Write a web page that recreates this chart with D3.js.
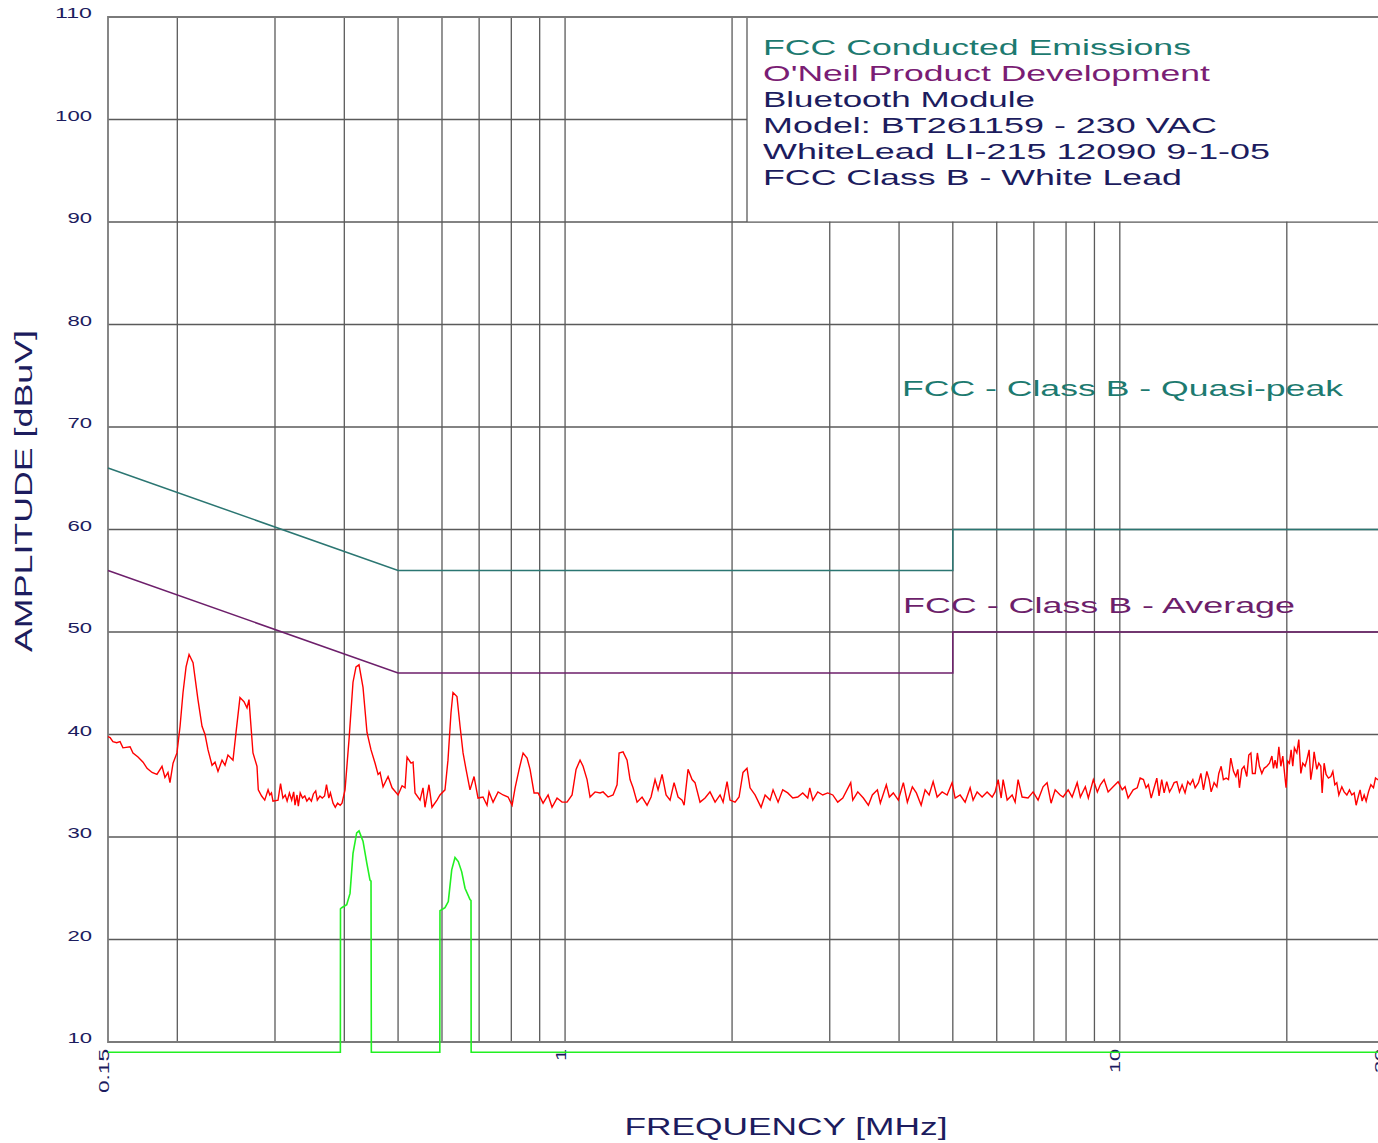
<!DOCTYPE html>
<html>
<head>
<meta charset="utf-8">
<script src="https://cdn.jsdelivr.net/npm/d3@7"></script>
<style>
body { margin:0; background:#fff; }
svg { display:block; font-family:"Liberation Sans", Arial, sans-serif; }
</style>
</head>
<body>
<svg width="1378" height="1143"></svg>
<script>
// frequency axis (MHz), amplitude axis (dBuV)
var freqTicks = [0.15, 1, 10, 30];
var freqTickLabels = ["0.15", "1", "10", "30"];
var freqGrid = [0.2,0.3,0.4,0.5,0.6,0.7,0.8,0.9,1,2,3,4,5,6,7,8,9,10,20];
var ampTicks = [10,20,30,40,50,60,70,80,90,100,110];
var ampGrid = [20,30,40,50,60,70,80,90,100];

// FCC class B limits
var qpFreq = [0.15, 0.5, 5, 5, 30];
var qpLimit = [66, 56, 56, 60, 60];
var avgFreq = [0.15, 0.5, 5, 5, 30];
var avgLimit = [56, 46, 46, 50, 50];

// measured peak trace [MHz, dBuV]
var peakTrace = [
[0.150,39.8],[0.1513,39.7],[0.1531,39.3],[0.1555,39.2],[0.1577,39.3],[0.1596,38.7],[0.1644,38.8],[0.1664,38.2],[0.1699,37.8],[0.1735,37.3],[0.1764,36.7],[0.1801,36.3],[0.1838,36.1],[0.1877,36.9],[0.1900,35.8],[0.1924,36.3],[0.1940,35.3],[0.1965,37.2],[0.1997,38.2],[0.2023,40.8],[0.2048,44.1],[0.2074,46.6],[0.2100,47.8],[0.2135,47.0],[0.2179,43.4],[0.2216,40.8],[0.2244,40.0],[0.2272,38.5],[0.2310,37.0],[0.2339,37.3],[0.2368,36.4],[0.2408,37.5],[0.2438,37.0],[0.2468,38.0],[0.2520,37.5],[0.2552,40.2],[0.2594,43.6],[0.2638,43.2],[0.2671,42.6],[0.2693,43.4],[0.2738,38.2],[0.2784,36.9],
[0.2799,34.6],[0.2838,34.0],[0.2875,33.6],[0.2915,34.6],[0.2936,34.1],[0.2956,34.3],[0.2975,33.5],[0.3038,33.6],[0.3070,35.2],[0.3100,33.8],[0.3130,34.1],[0.3155,33.5],[0.3185,34.3],[0.3215,33.6],[0.3242,34.4],[0.3260,33.1],[0.3287,34.1],[0.3305,33.0],[0.3331,34.3],[0.3363,33.8],[0.3395,34.0],[0.3424,33.5],[0.3457,33.8],[0.3489,33.5],[0.3518,34.2],[0.3552,34.5],[0.3576,33.6],[0.3615,34.0],[0.3650,33.8],[0.3685,34.0],[0.3715,35.1],[0.3751,33.8],[0.3776,34.3],[0.3817,33.3],[0.3853,32.9],[0.3890,33.3],[0.3932,33.1],
[0.3962,33.3],[0.4012,34.6],[0.4079,39.5],[0.4147,45.1],[0.4199,46.6],[0.4252,46.8],[0.4323,44.6],[0.4395,40.2],[0.4469,38.5],[0.4545,37.2],[0.4602,36.1],[0.4640,36.3],[0.4698,34.9],[0.4797,35.9],[0.4877,34.8],[0.500,34.1],
[0.5084,35.0],[0.5147,34.8],[0.5190,37.8],[0.5277,37.2],[0.5321,37.3],[0.5365,34.3],[0.5478,33.6],[0.5545,34.8],[0.5591,32.9],[0.5684,35.1],[0.5756,32.9],[0.5877,33.6],[0.5950,34.1],[0.6075,34.6],[0.6151,37.5],[0.6228,42.1],[0.6280,44.1],[0.6385,43.7],[0.6467,40.8],[0.6548,38.2],[0.6630,36.6],[0.6740,34.6],[0.6854,35.9],[0.6968,33.8],[0.7114,33.9],[0.7233,33.1],[0.7294,34.4],[0.7417,33.4],[0.7574,34.4],[0.7732,34.1],[0.7894,33.9],[0.8027,33.1],[0.8127,34.8],[0.8263,36.6],[0.8401,38.2],[0.8541,37.7],[0.8648,36.6],[0.8793,34.3],[0.8941,34.3],[0.9128,33.3],[0.9320,34.1],[0.9474,32.9],[0.9673,33.8],[0.9876,33.4],[1.0083,33.4],[1.0295,34.1],[1.0467,36.6],[1.0642,37.5],[1.0776,36.9],[1.0956,35.6],[1.1092,33.9],[1.1327,34.4],[1.1564,34.3],[1.1709,34.4],[1.1954,33.9],[1.2205,34.1],[1.2409,35.1],[1.2513,38.2],[1.2722,38.3],[1.2935,37.5],[1.3097,35.6],[1.3262,34.8],[1.3484,33.4],[1.3766,33.9],[1.4055,33.1],[1.4290,33.9],[1.4529,35.6],[1.4712,34.6],[1.4958,36.1],[1.5209,34.1],[1.5463,33.6],[1.5722,35.3],[1.5985,33.9],
[1.625,33.6],[1.639,33.1],[1.666,36.6],[1.694,35.6],[1.715,35.3],[1.751,33.4],[1.788,33.8],[1.825,34.4],[1.864,33.4],[1.903,34.1],[1.927,33.4],[1.959,35.4],[1.983,33.6],[2.025,33.4],[2.059,33.9],[2.093,36.3],[2.128,36.7],[2.155,34.8],[2.200,34.1],[2.256,32.9],[2.294,34.1],[2.342,33.6],[2.371,34.6],[2.421,33.4],[2.468,34.6],[2.520,34.3],[2.573,33.8],[2.627,33.9],[2.682,34.3],[2.738,33.8],[2.761,34.8],[2.796,33.6],[2.854,34.4],[2.914,34.1],[2.975,34.3],[3.038,34.1],[3.101,33.4],[3.167,33.8],[3.273,35.3],[3.301,33.6],[3.370,34.4],[3.449,33.8],[3.522,33.1],[3.580,34.1],[3.656,34.6],[3.701,33.3],[3.794,35.1],[3.842,33.9],[3.906,34.3],[3.988,33.6],[4.072,35.3],[4.140,33.4],[4.227,34.9],[4.298,34.3],[4.384,33.1],[4.457,34.6],[4.532,34.1],[4.608,35.4],[4.685,33.9],[4.783,34.4],[4.883,34.1],[4.985,35.3],[5.048,33.8],[5.154,34.1],[5.262,33.4],[5.373,34.8],[5.439,33.6],[5.531,34.4],[5.647,33.9],[5.765,34.4],[5.887,33.9],[5.960,34.4],[6.035,35.6],[6.111,33.8],[6.161,35.6],[6.265,33.6],[6.396,34.1],[6.476,33.4],[6.556,35.6],[6.666,33.9],[6.833,33.8],[6.977,34.4],[7.123,33.6],
[7.272,34.9],[7.394,35.3],[7.518,33.3],[7.646,34.6],[7.806,34.1],[7.904,33.9],[8.070,34.6],[8.205,33.9],[8.378,35.3],[8.489,33.9],[8.666,34.9],[8.775,33.8],[8.959,35.6],[9.109,34.4],[9.223,35.1],[9.369,35.6],[9.526,34.4],[9.726,34.9],[9.930,35.4],[10.10,34.6],[10.22,34.9],[10.35,33.8],[10.57,34.6],[10.75,34.8],
[10.88,35.75],[11.03,35.6],[11.15,34.8],[11.26,35.1],[11.39,33.8],[11.53,34.8],[11.66,35.75],[11.77,34.0],[11.90,35.6],[12.02,34.3],[12.15,35.4],[12.29,34.4],[12.41,34.8],[12.53,35.3],[12.67,35.4],[12.81,34.4],[12.95,35.1],[13.11,34.3],[13.26,35.4],[13.39,35.1],[13.54,35.6],[13.67,34.8],[13.86,35.3],[14.00,36.2],[14.15,34.6],[14.35,36.4],[14.49,35.6],[14.61,34.4],[14.79,35.3],[14.96,34.9],[15.08,36.2],[15.23,36.9],[15.37,35.6],[15.55,35.75],[15.70,35.6],[15.85,37.7],[16.03,36.4],[16.19,35.9],[16.32,36.6],[16.43,34.8],[16.59,36.6],[16.75,36.9],[16.94,35.9],[17.08,38.0],[17.23,38.2],[17.34,36.2],[17.54,36.2],[17.70,38.2],[17.85,36.9],[18.03,36.2],[18.20,36.7],[18.41,36.9],[18.61,37.2],[18.80,37.9],[18.92,36.7],[19.05,37.5],[19.19,36.7],[19.35,38.8],[19.51,36.9],[19.67,37.9],[19.84,35.9],[19.94,34.8],[20.08,37.4],[20.22,37.2],[20.36,38.5],[20.50,36.9],[20.64,38.7],[20.85,38.2],[21.02,39.5],[21.20,36.2],[21.37,37.2],[21.58,36.9],[21.73,37.5],[21.94,38.5],[22.09,35.6],[22.28,36.9],[22.40,38.3],[22.65,36.6],[22.84,37.2],[23.03,36.9],[23.16,34.3],[23.35,37.2],[23.54,36.1],[23.77,35.75],[24.01,35.9],[24.21,36.4],[24.41,35.1],[24.61,35.3],[24.82,34.1],[25.13,34.9],[25.37,34.4],[25.66,34.1],[25.94,34.6],[26.19,34.1],[26.45,34.3],[26.67,33.1],[26.92,34.0],[27.11,34.6],[27.34,33.5],[27.57,34.1],[27.80,33.5],[28.07,34.4],[28.35,35.1],[28.66,34.8],[28.90,35.75],[29.14,35.6],[30,35.7]
];

// measured average trace [MHz, dBuV]
var avgTrace = [
[0.15,9.0],[0.3935,9.0],[0.3937,23.0],[0.3957,23.1],[0.4040,23.4],[0.4096,24.5],[0.4147,28.4],[0.4211,30.4],[0.4252,30.6],[0.4323,29.6],[0.4390,27.5],[0.4450,25.8],[0.4469,25.7],[0.4475,9.0],
[0.5946,9.0],[0.5950,22.8],[0.6075,23.1],[0.6159,23.7],[0.6247,26.8],[0.6333,28.0],[0.6420,27.6],[0.6512,26.6],[0.6602,25.0],[0.6740,23.9],[0.6768,23.8],[0.6772,9.0],[30,9.0]
];

var legendLines = ["FCC Conducted Emissions","O'Neil Product Development","Bluetooth Module",
  "Model: BT261159 - 230 VAC","WhiteLead LI-215 12090 9-1-05","FCC Class B - White Lead"];
var legendColors = ["#1d7a70","#7a1d74","#1c1c5e","#1c1c5e","#1c1c5e","#1c1c5e"];
var legendWidths = [428,447,272,454,507,419];

var navy = "#1c1c5e";
var svg = d3.select("svg");
var plotLeft = 108, plotTop = 17, plotBottom = 1042, plotRight = 1384.5;

var x = d3.scaleLog().domain([0.15, 30]).range([plotLeft, plotRight]);
var y = d3.scaleLinear().domain([10, 110]).range([plotBottom, plotTop]);

// grid
svg.append("g").selectAll("line")
  .data(freqGrid).enter().append("line")
  .attr("x1", d => x(d)).attr("x2", d => x(d))
  .attr("y1", plotTop).attr("y2", plotBottom)
  .attr("stroke", "#5a5a5a").attr("stroke-width", 1.3);

svg.append("g").selectAll("line")
  .data(ampGrid).enter().append("line")
  .attr("x1", plotLeft).attr("x2", 1378)
  .attr("y1", d => y(d)).attr("y2", d => y(d))
  .attr("stroke", "#5a5a5a").attr("stroke-width", 1.3);

// legend box blanks the grid behind it
svg.append("rect").attr("x", 747).attr("y", plotTop).attr("width", 640).attr("height", y(90) - plotTop - 0.7)
  .attr("fill", "#fff");
svg.append("line").attr("x1", 747).attr("x2", 747).attr("y1", plotTop).attr("y2", y(90))
  .attr("stroke", "#5a5a5a").attr("stroke-width", 1.3);

// frame
svg.append("path")
  .attr("d", "M1378," + plotTop + "H" + plotLeft + "V" + plotBottom + "H1378")
  .attr("fill", "none").attr("stroke", "#7a7a7a").attr("stroke-width", 1.8);

// y labels
svg.append("g").selectAll("text")
  .data(ampTicks).enter().append("text")
  .attr("x", 92).attr("y", d => y(d) + 1)
  .attr("text-anchor", "end")
  .attr("font-size", 14).attr("fill", navy)
  .attr("textLength", d => String(d).length * 12.3)
  .attr("lengthAdjust", "spacingAndGlyphs")
  .text(d => d);

// x labels (rotated)
svg.append("g").selectAll("text")
  .data(freqTicks).enter().append("text")
  .attr("transform", d => "translate(" + (x(d) + 0.5) + ",1049) rotate(-90)")
  .attr("text-anchor", "end")
  .attr("font-size", 14).attr("fill", navy)
  .attr("textLength", (d, i) => freqTickLabels[i].length === 4 ? 44 : freqTickLabels[i].length * 12)
  .attr("lengthAdjust", "spacingAndGlyphs")
  .text((d, i) => freqTickLabels[i]);

// axis titles
svg.append("text")
  .attr("transform", "translate(32,491) rotate(-90)")
  .attr("text-anchor", "middle").attr("font-size", 23).attr("fill", navy)
  .attr("textLength", 322).attr("lengthAdjust", "spacingAndGlyphs")
  .text("AMPLITUDE [dBuV]");
svg.append("text")
  .attr("x", 786).attr("y", 1135)
  .attr("text-anchor", "middle").attr("font-size", 23).attr("fill", navy)
  .attr("textLength", 323).attr("lengthAdjust", "spacingAndGlyphs")
  .text("FREQUENCY [MHz]");

// legend text
svg.append("g").selectAll("text")
  .data(legendLines).enter().append("text")
  .attr("x", 763).attr("y", (d, i) => 55 + i * 25.9)
  .attr("font-size", 22).attr("fill", (d, i) => legendColors[i])
  .attr("textLength", (d, i) => legendWidths[i]).attr("lengthAdjust", "spacingAndGlyphs")
  .text(d => d);

// limit lines
var limitLine = d3.line().x(d => x(d[0])).y(d => y(d[1]));
svg.append("path").datum(qpFreq.map((f, i) => [f, qpLimit[i]]))
  .attr("d", limitLine).attr("fill", "none").attr("stroke", "#2b7672").attr("stroke-width", 1.5);
svg.append("path").datum(avgFreq.map((f, i) => [f, avgLimit[i]]))
  .attr("d", limitLine).attr("fill", "none").attr("stroke", "#6d1f6b").attr("stroke-width", 1.5);

svg.append("text").attr("x", 902).attr("y", 396)
  .attr("font-size", 22).attr("fill", "#1d7a70")
  .attr("textLength", 441).attr("lengthAdjust", "spacingAndGlyphs")
  .text("FCC - Class B - Quasi-peak");
svg.append("text").attr("x", 903).attr("y", 613)
  .attr("font-size", 22).attr("fill", "#6d1f6b")
  .attr("textLength", 392).attr("lengthAdjust", "spacingAndGlyphs")
  .text("FCC - Class B - Average");

// traces
var trace = d3.line().x(d => x(d[0])).y(d => y(d[1]));
svg.append("path").datum(avgTrace).attr("d", trace)
  .attr("fill", "none").attr("stroke", "#22f022").attr("stroke-width", 1.6);
svg.append("path").datum(peakTrace).attr("d", trace)
  .attr("fill", "none").attr("stroke", "#ff0000").attr("stroke-width", 1.4);
</script>
</body>
</html>
